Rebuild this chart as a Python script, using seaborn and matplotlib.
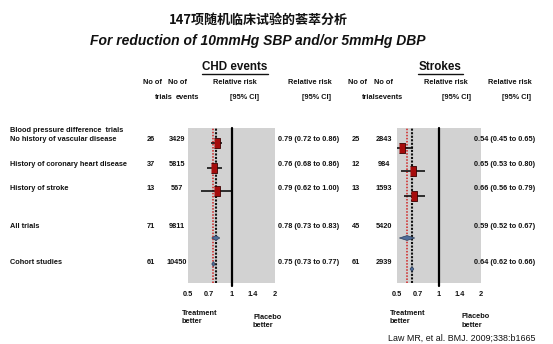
import numpy as np
import pandas as pd
import matplotlib
matplotlib.use("Agg")
import matplotlib.pyplot as plt
import seaborn as sns
from matplotlib.lines import Line2D

sns.set_theme(style="white")
plt.rcParams['font.family'] = ['Liberation Sans', 'DejaVu Sans']

# ---- data -------------------------------------------------------------
row_labels = ["No history of vascular disease", "History of coronary heart disease",
              "History of stroke", "All trials", "Cohort studies"]
is_summary = [False, False, False, True, True]

chd_trials = [26, 37, 13, 71, 61]
chd_events = [3429, 5815, 567, 9811, 10450]
chd_rr = [0.79, 0.76, 0.79, 0.78, 0.75]
chd_lo = [0.72, 0.68, 0.62, 0.73, 0.73]
chd_hi = [0.86, 0.86, 1.00, 0.83, 0.77]

stroke_trials = [25, 12, 13, 45, 61]
stroke_events = [2843, 984, 1593, 5420, 2939]
stroke_rr = [0.54, 0.65, 0.66, 0.59, 0.64]
stroke_lo = [0.45, 0.53, 0.56, 0.52, 0.62]
stroke_hi = [0.65, 0.80, 0.79, 0.67, 0.66]

tick_values = [0.5, 0.7, 1, 1.4, 2]
tick_labels = ["0.5", "0.7", "1", "1.4", "2"]

# ---- layout (pixel frame of a 553 x 344 canvas) -------------------------
W, H = 553, 344
fig = plt.figure(figsize=(W / 100, H / 100), dpi=100)
fig.patch.set_facecolor("white")

SMALL = 5.3


def P(x, y):
    return x / W, 1 - y / H


def put(x, y, s, size=SMALL, weight="bold", ha="left", va="center", **kw):
    fig.text(*P(x, y), s, fontsize=size, fontweight=weight, ha=ha, va=va,
             color="#111111", **kw)


def underline(x0, x1, y):
    fig.add_artist(Line2D([P(x0, 0)[0], P(x1, 0)[0]], [P(0, y)[1]] * 2,
                          color="#111111", lw=1.0))


text_rows = [139.5, 165, 189, 227, 262]
panel_top, panel_bottom = 128, 283

# titles
fig.text(*P(258, 20), "147项随机临床试验的荟萃分析", fontsize=9.4, fontweight="bold",
         ha="center", va="center", color="#111111",
         family=["Noto Sans CJK SC", "DejaVu Sans"])
put(258, 41, "For reduction of 10mmHg SBP and/or 5mmHg DBP", size=10,
    ha="center", style="italic")

# left row labels
put(10, 131, "Blood pressure difference  trials")
for lab, y in zip(row_labels, text_rows):
    put(10, y, lab)


# ---- forest panels ------------------------------------------------------
def forest(ax, rr, lo, hi, mark_rows):
    ax.set_xscale("log")
    ax.set_xlim(0.5, 2)
    ax.set_ylim(panel_bottom, panel_top)
    ax.set_facecolor("#d2d2d2")
    for s in ax.spines.values():
        s.set_visible(False)
    ax.set_yticks([])
    ax.set_xticks(tick_values)
    ax.set_xticklabels(tick_labels)
    ax.xaxis.set_minor_locator(matplotlib.ticker.NullLocator())
    ax.tick_params(axis="x", length=0, pad=6, labelsize=SMALL)
    for t in ax.get_xticklabels():
        t.set_fontweight("bold")
        t.set_color("#111111")

    summ = [r for r, s in zip(rr, is_summary) if s]
    ax.axvline(min(summ), color="#d02020", lw=1.1, ls=(0, (1, 1)), zorder=2)
    ax.axvline(max(summ), color="#111111", lw=1.5, ls=(0, (1, 0.7)), zorder=2)
    ax.plot([1, 1], [panel_top, panel_bottom + 3], color="black", lw=1.6,
            clip_on=False, zorder=3)

    df = pd.DataFrame({"rr": rr, "lo": lo, "hi": hi, "y": mark_rows,
                       "summary": is_summary})
    trials = df[~df.summary]
    ax.hlines(trials.y, trials.lo, trials.hi, color="black", lw=1.1, zorder=4)
    rect = [(-0.6, -1), (0.6, -1), (0.6, 1), (-0.6, 1)]
    sns.scatterplot(data=trials, x="rr", y="y", marker=rect, s=60,
                    color="#a50d0d", edgecolor="#3a0000", linewidth=0.6,
                    ax=ax, zorder=5, legend=False)
    for _, r in df[df.summary].iterrows():
        h = 2.4
        ax.fill([r.lo, r.rr, r.hi, r.rr], [r.y, r.y - h, r.y, r.y + h],
                color="#4f6d99", ec="#2c3e5c", lw=0.5, zorder=5)
    ax.set_xlabel("")
    ax.set_ylabel("")


ax1 = fig.add_axes([188 / W, 1 - panel_bottom / H, 87 / W,
                    (panel_bottom - panel_top) / H])
ax2 = fig.add_axes([397 / W, 1 - panel_bottom / H, 84 / W,
                    (panel_bottom - panel_top) / H])
forest(ax1, chd_rr, chd_lo, chd_hi, [143, 168, 191, 238, 264])
forest(ax2, stroke_rr, stroke_lo, stroke_hi, [148, 171, 196, 238, 269])

# ---- CHD text columns ---------------------------------------------------
put(235, 67, "CHD events", size=8.4, ha="center")
underline(202, 268, 73.5)
for x, y, s in [(152, 82, "No of"), (177, 82, "No of"), (163.5, 97, "trials"),
                (187, 97, "events"), (235, 82, "Relative risk"),
                (245, 97, "[95% CI]"), (310, 82, "Relative risk"),
                (317, 97, "[95% CI]")]:
    put(x, y, s, ha="center")
for y, n, e, r, l, h in zip(text_rows, chd_trials, chd_events, chd_rr,
                            chd_lo, chd_hi):
    put(151, y, str(n), ha="center")
    put(177, y, str(e), ha="center")
    put(278, y, f"{r:.2f} ({l:.2f} to {h:.2f})")

# ---- Stroke text columns ------------------------------------------------
put(440, 67, "Strokes", size=8.4, ha="center")
underline(418, 463, 73.5)
for x, y, s in [(357, 82, "No of"), (383, 82, "No of"),
                (382, 97, "trialsevents"), (446, 82, "Relative risk"),
                (456, 97, "[95% CI]"), (510, 82, "Relative risk"),
                (516, 97, "[95% CI]")]:
    put(x, y, s, ha="center")
for y, n, e, r, l, h in zip(text_rows, stroke_trials, stroke_events,
                            stroke_rr, stroke_lo, stroke_hi):
    put(356, y, str(n), ha="center")
    put(384, y, str(e), ha="center")
    put(474, y, f"{r:.2f} ({l:.2f} to {h:.2f})")

# ---- footers ------------------------------------------------------------
for x, y in [(182, 317.5), (390, 317.5)]:
    put(x, y, "Treatment\nbetter", linespacing=1.25)
for x, y in [(253, 321.5), (462, 321)]:
    put(x, y, "Placebo\nbetter", linespacing=1.25)
put(388, 338, "Law MR, et al. BMJ. 2009;338:b1665", size=6.4, weight="normal")

fig.savefig("out.png", dpi=100, facecolor="white")
